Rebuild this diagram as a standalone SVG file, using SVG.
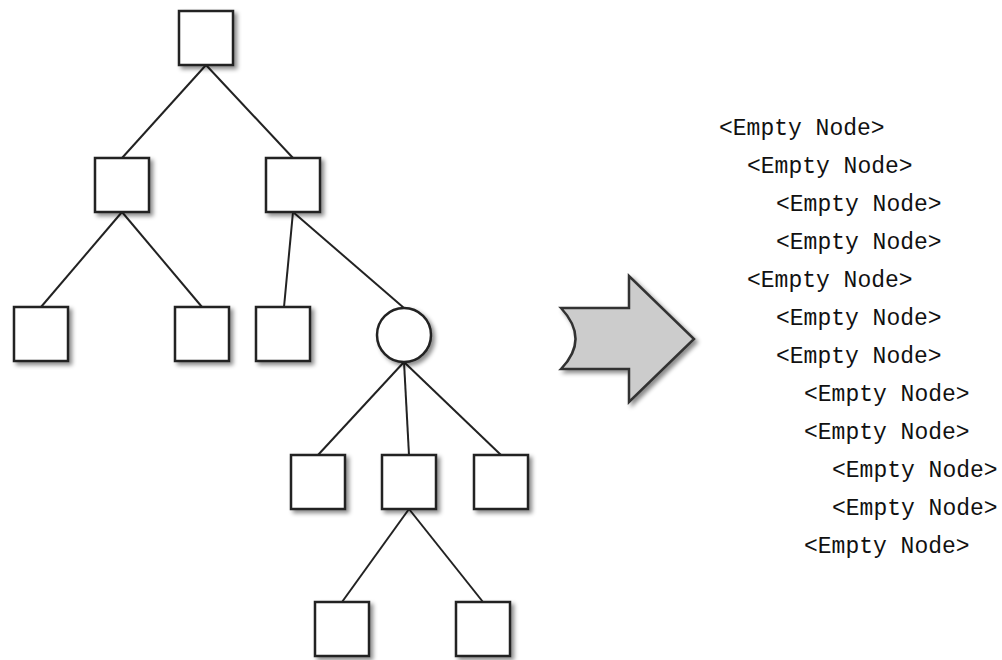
<svg xmlns="http://www.w3.org/2000/svg" width="1002" height="660" viewBox="0 0 1002 660">
<defs>
<filter id="sh" x="-30%" y="-30%" width="160%" height="160%">
<feDropShadow dx="3" dy="3" stdDeviation="2" flood-color="#000" flood-opacity="0.45"/>
</filter>
<style>
.n{fill:#fff;stroke:#222;stroke-width:2.5;filter:url(#sh)}
.e{stroke:#222;stroke-width:2;fill:none}
.t{font-family:"Liberation Mono","Courier New",monospace;font-size:23px;fill:#111}
</style>
</defs>
<rect width="1002" height="660" fill="#fff"/>
<g id="connectors">
<line class="e" x1="206" y1="65" x2="122" y2="158"/>
<line class="e" x1="206" y1="65" x2="293" y2="158"/>
<line class="e" x1="122" y1="212" x2="41" y2="307"/>
<line class="e" x1="122" y1="212" x2="202" y2="307"/>
<line class="e" x1="293" y1="212" x2="284" y2="307"/>
<line class="e" x1="293" y1="212" x2="404" y2="308"/>
<line class="e" x1="404" y1="362" x2="318" y2="455"/>
<line class="e" x1="404" y1="362" x2="409" y2="455"/>
<line class="e" x1="404" y1="362" x2="501" y2="455"/>
<line class="e" x1="409" y1="509" x2="342" y2="602"/>
<line class="e" x1="409" y1="509" x2="483" y2="602"/>
</g>
<g id="root"><rect class="n" x="179" y="11" width="54" height="54"/></g>
<g id="n1"><rect class="n" x="95" y="158" width="54" height="54"/></g>
<g id="n2"><rect class="n" x="266" y="158" width="54" height="54"/></g>
<g id="n3"><rect class="n" x="14" y="307" width="54" height="54"/></g>
<g id="n4"><rect class="n" x="175" y="307" width="54" height="54"/></g>
<g id="n5"><rect class="n" x="256" y="307" width="54" height="54"/></g>
<g id="n6"><circle class="n" cx="404" cy="335" r="27"/></g>
<g id="n7"><rect class="n" x="291" y="455" width="54" height="54"/></g>
<g id="n8"><rect class="n" x="382" y="455" width="54" height="54"/></g>
<g id="n9"><rect class="n" x="474" y="455" width="54" height="54"/></g>
<g id="n10"><rect class="n" x="315" y="602" width="54" height="54"/></g>
<g id="n11"><rect class="n" x="456" y="602" width="54" height="54"/></g>
<g id="arrow"><path d="M561,308 L629,308 L629,276 L694,339 L629,402 L629,369 L561,369 Q590,339 561,308 Z" fill="#ccc" stroke="#333" stroke-width="2.5" stroke-linejoin="miter" filter="url(#sh)"/></g>
<g id="list">
<text class="t" x="719" y="135">&lt;Empty Node&gt;</text>
<text class="t" x="747" y="173">&lt;Empty Node&gt;</text>
<text class="t" x="776" y="211">&lt;Empty Node&gt;</text>
<text class="t" x="776" y="249">&lt;Empty Node&gt;</text>
<text class="t" x="747" y="287">&lt;Empty Node&gt;</text>
<text class="t" x="776" y="325">&lt;Empty Node&gt;</text>
<text class="t" x="776" y="363">&lt;Empty Node&gt;</text>
<text class="t" x="804" y="401">&lt;Empty Node&gt;</text>
<text class="t" x="804" y="439">&lt;Empty Node&gt;</text>
<text class="t" x="832" y="477">&lt;Empty Node&gt;</text>
<text class="t" x="832" y="515">&lt;Empty Node&gt;</text>
<text class="t" x="804" y="553">&lt;Empty Node&gt;</text>
</g>
</svg>
